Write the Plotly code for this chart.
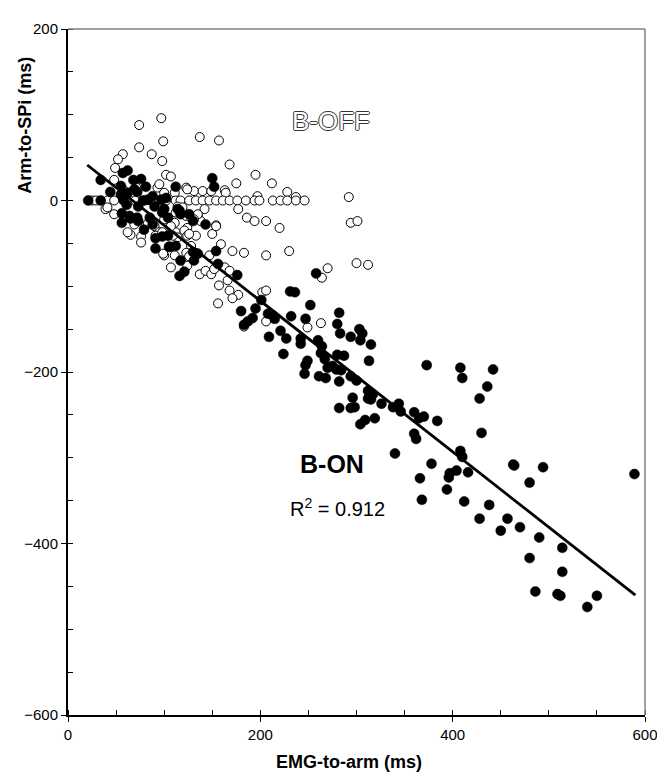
import plotly.graph_objects as go

# ---- data ----
off_x = [97, 74, 99, 137, 157, 74, 87, 57, 52, 98, 168, 49, 102, 107, 195, 175, 48, 57, 212, 228, 237, 292,
         71, 93, 95, 123, 131, 124, 140, 149, 163, 164, 197, 100, 111,
         25, 29, 41, 48, 64, 70, 80, 86, 95, 102, 112, 117, 126, 133, 140, 147, 154, 161, 168, 176, 185, 194, 199,
         213, 221, 228, 237, 246,
         39, 48, 142, 177, 186, 194, 154, 135, 138, 124, 76, 65, 294, 301, 206, 220, 41, 58, 69, 83, 62, 90, 95,
         111, 112, 114, 121, 124, 133, 100, 111, 128, 133, 91, 100, 109, 126, 150, 154, 159, 99, 123, 126, 147,
         107, 124, 137, 143, 149, 152, 163, 168, 157, 166, 168, 177, 171, 156, 171, 183, 206, 230, 300, 312, 270,
         264, 202, 206, 206, 183, 249, 263, 114, 119, 112, 123, 128, 135, 131, 100, 107, 98, 76]
off_y = [96, 88, 69, 74, 70, 62, 54, 54, 48, 46, 42, 38, 30, 28, 30, 20, 24, 13, 20, 10, 4, 4,
         15, 15, 19, 15, 11, 13, 11, 11, 12, 9, 5, 9, 9,
         0, 0, 0, 0, 0, 0, 0, 0, 0, 0, 0, 0, 0, 0, 0, 0, 0, 0, 0, 0, 0, 0, 0,
         0, 0, 0, 0, 0,
         -10, -16, -10, -10, -20, -24, -29, -18, -24, -32, -42, -40, -26, -24, -24, -32, -8, -20, -28, -27, -37, -30, -37,
         -26, -37, -43, -35, -41, -41, -64, -64, -53, -61, -41, -39, -41, -39, -39, -30, -51, -62, -61, -65, -64,
         -78, -76, -86, -82, -86, -80, -78, -82, -99, -93, -105, -110, -114, -120, -59, -61, -64, -59, -73, -75, -79,
         -90, -107, -105, -141, -147, -148, -143, -7, -8, -14, -18, -20, -16, -22, -22, -30, -37, -49]

on_x = [21, 34, 34, 57, 62, 150, 152, 112, 68, 76, 44, 55, 116, 98, 130, 143, 56, 98, 55, 62, 58, 69, 72, 78,
        73, 61, 56, 64, 83, 88, 102, 90, 65, 73, 79, 88, 91, 104, 91, 105, 130, 117, 81, 72, 85, 117, 135, 121,
        116, 106, 97, 100, 104, 114, 126, 112, 131, 156, 154,
        176, 258, 231, 236, 201, 252, 180, 195, 282, 208, 213, 215, 232, 187, 192, 247, 280, 183, 303, 306, 283,
        294, 221, 209, 227, 242, 242, 260, 304, 315, 264, 263, 267, 224, 280, 287, 313, 249, 247, 270, 275, 279,
        284, 246, 261, 268, 282, 294, 300, 296, 282, 294, 298,
        373, 408, 442, 410, 436, 428, 430, 312, 317, 312, 315, 326, 338, 344, 346, 360, 370, 365, 384, 304, 309,
        319, 360, 362, 408, 410, 340, 378, 397, 396, 404, 416, 366, 463, 464, 494, 480, 589, 394, 368, 412, 438,
        428, 457, 450, 470, 490, 514, 480, 514, 486, 509, 512, 550, 540]
on_y = [0, 0, 24, 32, 35, 26, 16, 16, 24, 25, 10, 17, -12, -14, -24, -28, -26, -42, 7, 9, 0, 13, 10, 0,
        -7, -5, -15, -18, 1, 5, 3, -7, -21, -24, -34, -28, -44, -41, -56, -54, -60, -70, 16, -20, -20, -16, -62, -83,
        -88, -54, 1, -10, -20, -10, -16, -53, -70, -74, -59,
        -87, -85, -106, -107, -116, -122, -129, -126, -131, -132, -134, -138, -135, -141, -137, -138, -144, -145, -150, -155, -155,
        -159, -152, -159, -161, -161, -167, -163, -163, -168, -170, -178, -185, -179, -180, -181, -187, -187, -192, -195, -193, -197,
        -198, -202, -205, -207, -211, -205, -210, -230, -242, -242, -241,
        -192, -195, -197, -207, -217, -231, -271, -222, -226, -231, -232, -237, -241, -237, -246, -247, -252, -254, -257, -261, -256,
        -254, -272, -278, -292, -299, -295, -307, -318, -323, -315, -317, -324, -308, -309, -311, -329, -319, -337, -349, -351, -355,
        -371, -371, -385, -381, -393, -405, -417, -433, -456, -459, -461, -461, -474]

fit_slope = -0.88
fit_intercept = 59.0
fit_range = [20, 590]

x_ticks = [0, 200, 400, 600]
y_ticks = [-600, -400, -200, 0, 200]

FONT = "Liberation Sans, Arial, sans-serif"

fig = go.Figure()
fig.add_trace(go.Scatter(
    x=off_x, y=off_y, mode="markers", name="B-OFF",
    marker=dict(symbol="circle", size=9, color="white", line=dict(color="black", width=1)),
    cliponaxis=False))
fig.add_trace(go.Scatter(
    x=on_x, y=on_y, mode="markers", name="B-ON",
    marker=dict(symbol="circle", size=10, color="black", line=dict(color="black", width=0.5)),
    cliponaxis=False))
fig.add_trace(go.Scatter(
    x=fit_range, y=[fit_intercept + fit_slope * v for v in fit_range],
    mode="lines", line=dict(color="black", width=2.8), name="fit"))

axis_common = dict(
    showgrid=False, zeroline=False, showline=True, linecolor="black", linewidth=2,
    ticks="outside", ticklen=5, tickwidth=1, tickcolor="black",
    tickfont=dict(family=FONT, size=15, color="black"),
    minor=dict(ticks="inside", ticklen=5, tickwidth=1, tickcolor="black", dtick=50, showgrid=False),
)

fig.update_layout(
    width=665, height=774,
    margin=dict(l=60, r=28, t=15, b=67),
    paper_bgcolor="white", plot_bgcolor="white",
    showlegend=False,
    xaxis=dict(range=[0, 600], tickvals=x_ticks, **axis_common),
    yaxis=dict(range=[-600, 200], tickvals=y_ticks, **axis_common),
    shapes=[
        dict(type="line", xref="paper", yref="paper", x0=0, x1=1, y0=1, y1=1,
             line=dict(color="#808080", width=1.5)),
        dict(type="line", xref="paper", yref="paper", x0=1, x1=1, y0=0, y1=1,
             line=dict(color="#808080", width=1.5)),
    ],
    annotations=[
        dict(text="<b>EMG-to-arm (ms)</b>", xref="paper", yref="paper", x=0.487, y=-0.068,
             showarrow=False, xanchor="center", yanchor="middle",
             font=dict(family=FONT, size=18, color="black")),
        dict(text="<b>Arm-to-SPi (ms)</b>", xref="paper", yref="paper", x=-0.075, y=0.86,
             showarrow=False, xanchor="center", yanchor="middle", textangle=-90,
             font=dict(family=FONT, size=18, color="black")),
        dict(text="B-OFF", x=273, y=93, xref="x", yref="y", showarrow=False,
             font=dict(family=FONT, size=26, color="white",
                       shadow="1px 0 0 #333, -1px 0 0 #333, 0 1px 0 #333, 0 -1px 0 #333")),
        dict(text="<b>B-ON</b>", x=275, y=-307, xref="x", yref="y", showarrow=False,
             font=dict(family=FONT, size=25, color="black")),
        dict(text="R<sup>2</sup> = 0.912", x=280, y=-358, xref="x", yref="y", showarrow=False,
             font=dict(family=FONT, size=20, color="black")),
    ],
)

fig.write_html("out.html")
